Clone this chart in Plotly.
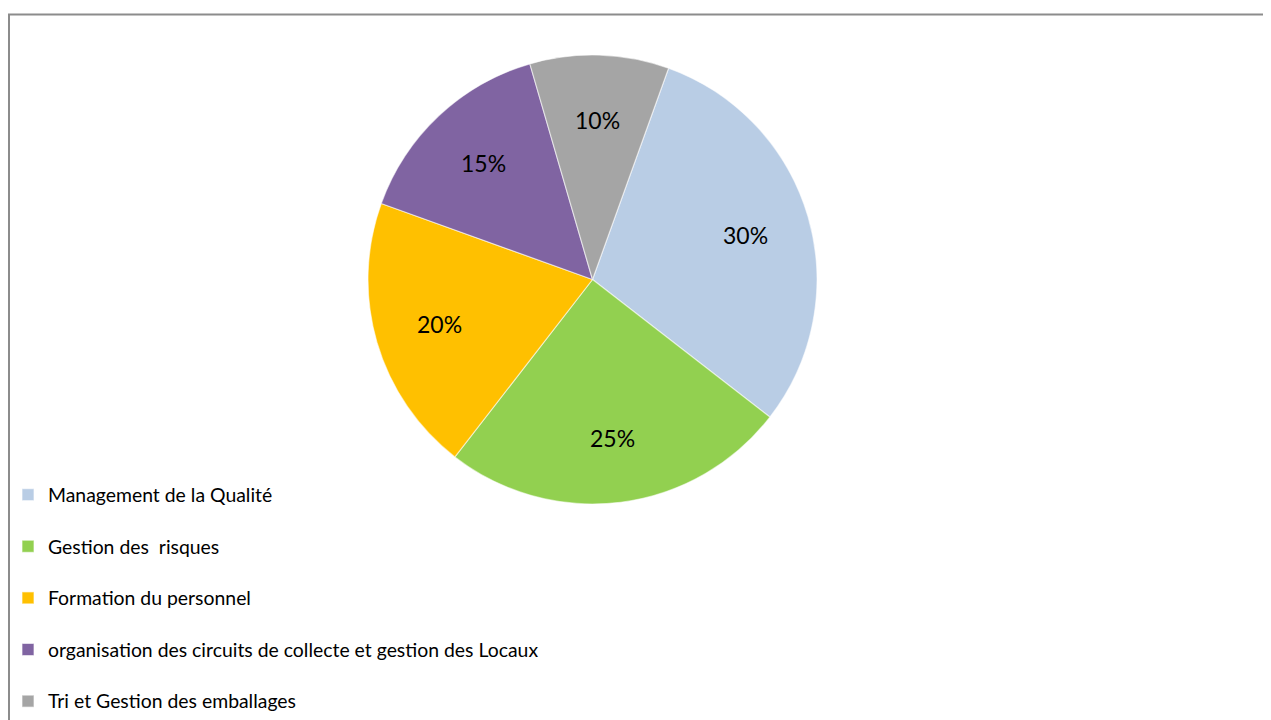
import math
import plotly.graph_objects as go

categories = [
    "Management de la Qualité",
    "Gestion des  risques",
    "Formation du personnel",
    "organisation des circuits de collecte et gestion des Locaux",
    "Tri et Gestion des emballages",
]
values = [30, 25, 20, 15, 10]
colors = ["#B9CDE5", "#92D050", "#FFC000", "#8064A2", "#A5A5A5"]

# The page adds an 8px body margin, so the figure is sized/positioned to compensate.
W, H = 1263, 712
cx, cy, R = 584.5, 271.5, 224.5
ROTATION = 19.8
LABEL_R = 0.71

total = sum(values)
n = len(categories)
# legend labels: extra empty line gives the wide spacing between legend entries
legend_labels = [
    '<span style="font-size:19.4px">' + c + "</span>" + ("<br>\u00a0" if i < n - 1 else "")
    for i, c in enumerate(categories)
]

fig = go.Figure()
fig.add_trace(go.Pie(
    labels=legend_labels,
    values=values,
    sort=False,
    direction="clockwise",
    rotation=ROTATION,
    marker=dict(colors=colors, line=dict(color="rgba(255,255,255,0.55)", width=1.2)),
    textinfo="none",
    domain=dict(x=[(cx - R) / W, (cx + R) / W], y=[1 - (cy + R) / H, 1 - (cy - R) / H]),
    customdata=categories,
    hovertemplate="%{customdata}: %{percent}<extra></extra>",
))

# percentage labels placed at the middle angle of each slice
annotations = []
cum = 0.0
for v in values:
    mid = ROTATION + (cum + v / 2) / total * 360.0
    cum += v
    a = math.radians(mid)
    px = cx + LABEL_R * R * math.sin(a)
    py = cy - LABEL_R * R * math.cos(a)
    annotations.append(dict(
        x=px / W, y=1 - py / H, xref="paper", yref="paper",
        text=f"{round(v / total * 100)}%", showarrow=False,
        xanchor="center", yanchor="middle",
        font=dict(family="Lato", size=23, color="#000000"),
    ))

fig.update_layout(
    width=W, height=H,
    margin=dict(l=0, r=0, t=0, b=0),
    paper_bgcolor="white",
    plot_bgcolor="white",
    font=dict(family="Lato", color="#000000"),
    showlegend=True,
    legend=dict(
        x=0.0, xanchor="left",
        y=1 - 468 / H, yanchor="top",
        valign="top",
        font=dict(family="Lato", size=18.7, color="#000000"),
        bgcolor="rgba(0,0,0,0)",
    ),
    annotations=annotations,
    shapes=[dict(
        type="rect", xref="paper", yref="paper",
        x0=1 / W, x1=1.05, y0=-0.05, y1=1 - 6.5 / H,
        line=dict(color="#8C8C8C", width=2),
        fillcolor="rgba(0,0,0,0)",
        layer="below",
    )],
)

fig.write_html("out.html")
